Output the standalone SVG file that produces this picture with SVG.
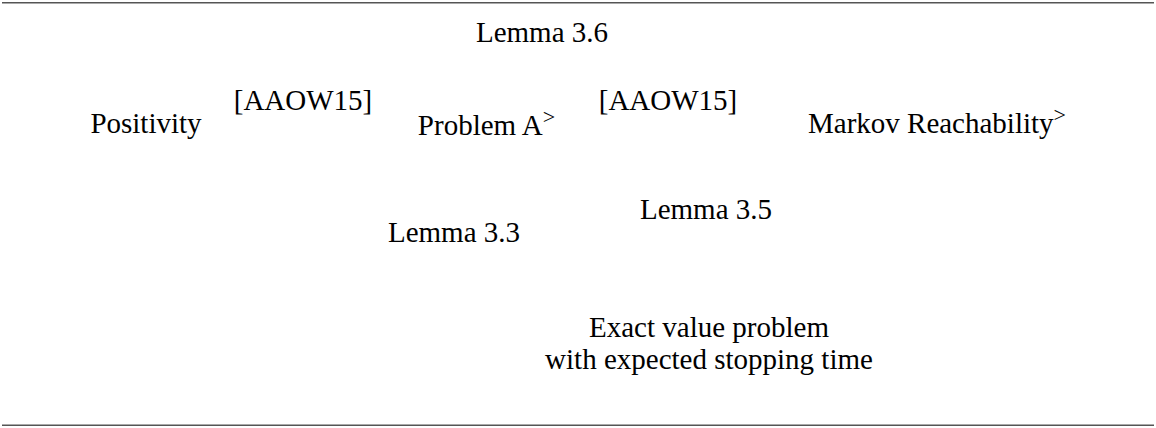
<svg xmlns="http://www.w3.org/2000/svg" width="1156" height="428" viewBox="0 0 1156 428">
  <style>
    text { font-family: "Liberation Serif", "DejaVu Serif", serif; font-size: 29px; fill: #000; text-anchor: middle; }
    .sup { font-size: 22px; }
    .rule { stroke: #555; stroke-width: 1.6; }
  </style>
  <rect width="1156" height="428" fill="#fff"/>
  <line class="rule" x1="2" y1="2.8" x2="1154" y2="2.8"/>
  <line class="rule" x1="2" y1="425.2" x2="1154" y2="425.2"/>
  <g id="connectors"></g>
  <g id="lemma36"><text x="542" y="42">Lemma 3.6</text></g>
  <g id="positivity"><text x="146" y="133">Positivity</text></g>
  <g id="aaow1"><text x="303" y="109.5">[AAOW15]</text></g>
  <g id="problemA"><text x="486.5" y="135">Problem A<tspan class="sup" dy="-11">&gt;</tspan></text></g>
  <g id="aaow2"><text x="668" y="109.5">[AAOW15]</text></g>
  <g id="markov"><text x="937" y="133">Markov Reachability<tspan class="sup" dy="-11">&gt;</tspan></text></g>
  <g id="lemma35"><text x="706" y="218.5">Lemma 3.5</text></g>
  <g id="lemma33"><text x="454" y="242">Lemma 3.3</text></g>
  <g id="exact">
    <text x="709" y="337">Exact value problem</text>
    <text x="709" y="369">with expected stopping time</text>
  </g>
</svg>
